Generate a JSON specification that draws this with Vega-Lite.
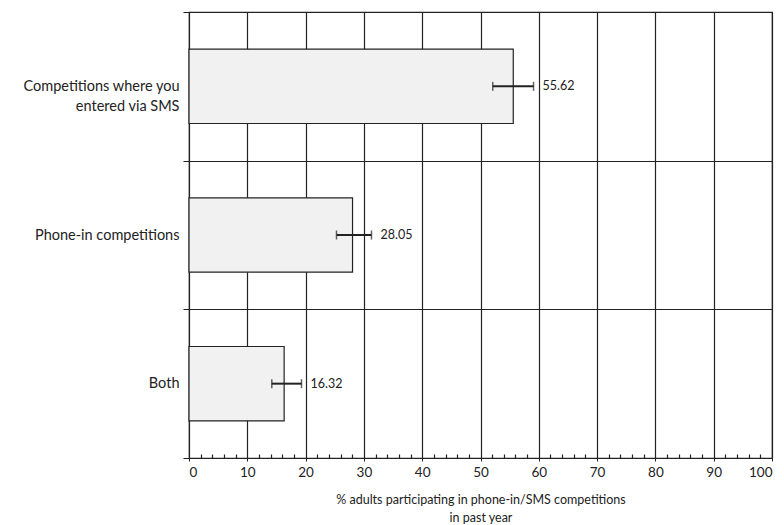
{
  "$schema": "https://vega.github.io/schema/vega-lite/v6.json",
  "width": 583,
  "height": 446,
  "autosize": {"type": "none"},
  "padding": {"left": 189, "top": 12, "right": 12, "bottom": 67},
  "background": "white",
  "config": {
    "font": "Lato",
    "view": {"stroke": "#222", "strokeWidth": 1.2},
    "axis": {"labelColor": "#222", "titleColor": "#222", "domainColor": "#222", "tickColor": "#222"}
  },
  "data": {
    "values": [
      {"cat": "Competitions where you entered via SMS", "value": 55.62, "lo": 52.1, "hi": 59.1},
      {"cat": "Phone-in competitions", "value": 28.05, "lo": 25.3, "hi": 31.3},
      {"cat": "Both", "value": 16.32, "lo": 14.2, "hi": 19.3}
    ]
  },
  "resolve": {"axis": {"x": "independent"}},
  "encoding": {
    "y": {
      "field": "cat",
      "type": "nominal",
      "sort": null,
      "scale": {"paddingInner": 0, "paddingOuter": 0},
      "axis": {
        "title": null,
        "tickBand": "extent",
        "grid": true,
        "gridColor": "#222",
        "gridWidth": 1.2,
        "ticks": true,
        "tickSize": 6,
        "domain": true,
        "labelFontSize": 14.5,
        "labelPadding": 4,
        "labelLineHeight": 20,
        "labelExpr": "datum.value == 'Competitions where you entered via SMS' ? ['Competitions where you', 'entered via SMS'] : datum.label"
      }
    }
  },
  "layer": [
    {
      "mark": {"type": "bar", "fill": "#f1f1f1", "stroke": "#222", "strokeWidth": 1.2, "height": {"band": 0.5}},
      "encoding": {
        "x": {
          "field": "value",
          "type": "quantitative",
          "scale": {"domain": [0, 100], "nice": false},
          "axis": {
            "orient": "bottom",
            "title": ["% adults participating in phone-in/SMS competitions", "in past year"],
            "titleFontSize": 12.5,
            "titleFontWeight": "normal",
            "titleLineHeight": 18,
            "titlePadding": 15,
            "values": [0, 10, 20, 30, 40, 50, 60, 70, 80, 90, 100],
            "labelFontSize": 13.5,
            "labelPadding": 4,
            "labelOverlap": false,
            "grid": true,
            "gridColor": "#222",
            "gridWidth": 1.2,
            "ticks": true,
            "tickSize": 3,
            "domain": true
          }
        }
      }
    },
    {
      "mark": {"type": "rule", "color": "#222", "strokeWidth": 2},
      "encoding": {
        "x": {
          "field": "lo",
          "type": "quantitative",
          "axis": {
            "orient": "top",
            "offset": -446,
            "title": null,
            "labels": false,
            "grid": false,
            "domain": false,
            "ticks": true,
            "tickSize": 4,
            "tickWidth": 1.2,
            "values": [2, 4, 6, 8, 12, 14, 16, 18, 22, 24, 26, 28, 32, 34, 36, 38, 42, 44, 46, 48, 52, 54, 56, 58, 62, 64, 66, 68, 72, 74, 76, 78, 82, 84, 86, 88, 92, 94, 96, 98]
          }
        },
        "x2": {"field": "hi"}
      }
    },
    {
      "mark": {"type": "tick", "color": "#222", "thickness": 1.5, "size": 9},
      "encoding": {"x": {"field": "lo", "type": "quantitative", "axis": null}}
    },
    {
      "mark": {"type": "tick", "color": "#222", "thickness": 1.5, "size": 9},
      "encoding": {"x": {"field": "hi", "type": "quantitative", "axis": null}}
    },
    {
      "mark": {"type": "text", "align": "left", "baseline": "middle", "dx": 9, "fontSize": 12.5, "color": "#222"},
      "encoding": {
        "x": {"field": "hi", "type": "quantitative", "axis": null},
        "text": {"field": "value", "type": "quantitative", "format": ".2f"}
      }
    }
  ]
}
